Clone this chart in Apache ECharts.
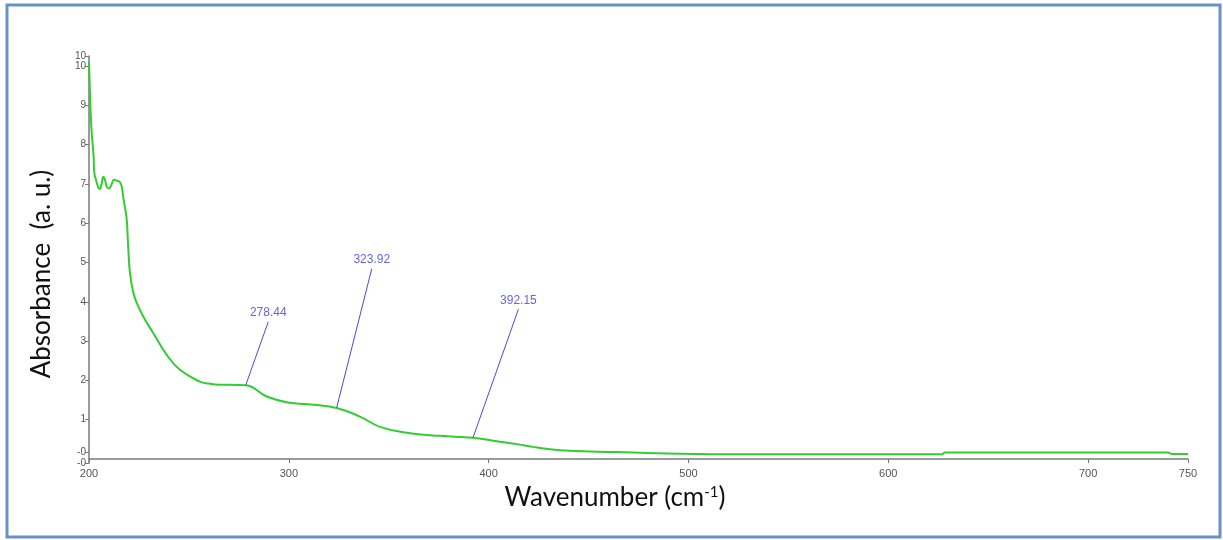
<!DOCTYPE html>
<html>
<head>
<meta charset="utf-8">
<script src="https://cdn.jsdelivr.net/npm/echarts@6/dist/echarts.min.js"></script>
<style>
    html, body { margin: 0; padding: 0; background: #fff; }
    #chart { width: 1223px; height: 540px; }
</style>
</head>
<body>
<div id="chart"></div>
<script>
// spectrum: wavenumber / absorbance
const waveX = [200.0, 200.3, 200.6, 201.0, 201.5, 202.0, 202.3, 202.6, 203.5, 204.7, 205.5, 206.3, 207.2, 208.0, 208.9, 210.0, 211.4, 212.5, 213.9, 215.5, 216.5, 217.0, 218.0, 218.9, 219.4, 219.7, 220.5, 222.2, 223.9, 227.2, 232.2, 238.9, 245.5, 255.5, 260, 265, 270, 278.44, 288.9, 300.6, 312.3, 323.92, 335.6, 345.6, 359.0, 375.7, 392.15, 405.7, 414.1, 422.4, 427.4, 440.7, 464.1, 484.1, 525.8, 626.8, 628.4, 740.0, 742.0, 750];
const absorb = [10.1, 9.6, 9.1, 8.6, 8.2, 7.9, 7.7, 7.3, 7.1, 6.9, 6.87, 7.0, 7.18, 7.1, 6.92, 6.88, 7.0, 7.1, 7.08, 7.04, 6.9, 6.7, 6.4, 6.08, 5.6, 5.32, 4.73, 4.23, 3.97, 3.62, 3.2, 2.65, 2.27, 1.97, 1.92, 1.89, 1.89, 1.88, 1.59, 1.43, 1.38, 1.3, 1.08, 0.82, 0.67, 0.59, 0.54, 0.44, 0.38, 0.31, 0.27, 0.21, 0.18, 0.15, 0.12, 0.12, 0.17, 0.17, 0.13, 0.13];

// peak annotations: point on curve and end of the leader line
const peakNames = ["278.44", "323.92", "392.15"];
const peakX = [278.44, 323.92, 392.15];
const peakY = [1.88, 1.30, 0.54];
const tagX = [289.7, 341.5, 414.9];
const tagY = [3.49, 4.84, 3.81];

const xTickValues = [200, 300, 400, 500, 600, 700, 750];
const yTickValues = [-0.1, 0.18, 1, 2, 3, 4, 5, 6, 7, 8, 9, 10, 10.25];
const yTickLabels = ["-0", "-0", "1", "2", "3", "4", "5", "6", "7", "8", "9", "10", "10"];

const chart = echarts.init(document.getElementById("chart"));

const axisColor = "#7a7a7a";

chart.setOption({
    animation: false,
    backgroundColor: "#fff",
    grid: { left: 89, right: 35, top: 56, bottom: 77 },
    xAxis: {
        type: "value",
        min: 200,
        max: 750,
        axisLine: { lineStyle: { color: axisColor, width: 1.5 } },
        axisTick: { customValues: xTickValues, length: 4, lineStyle: { color: axisColor } },
        axisLabel: {
            customValues: xTickValues,
            margin: 5,
            fontFamily: "Liberation Sans",
            fontSize: 11,
            color: "#555"
        },
        splitLine: { show: false }
    },
    yAxis: {
        type: "value",
        min: -0.1,
        max: 10.25,
        axisLine: { show: true, lineStyle: { color: axisColor, width: 1.5 } },
        axisTick: { show: true, customValues: yTickValues, length: 4, lineStyle: { color: axisColor } },
        axisLabel: {
            customValues: yTickValues,
            margin: 3,
            showMinLabel: true,
            showMaxLabel: true,
            hideOverlap: false,
            fontFamily: "Liberation Sans",
            fontSize: 10,
            color: "#555",
            formatter: v => yTickLabels[yTickValues.indexOf(v)]
        },
        splitLine: { show: false }
    },
    graphic: [
        {
            type: "rect",
            shape: { x: 7, y: 5, width: 1213, height: 532 },
            style: { fill: null, stroke: "#6a91c6", lineWidth: 3 },
            silent: true
        },
        {
            type: "text",
            x: 42,
            y: 274,
            rotation: Math.PI / 2,
            style: {
                text: "Absorbance  (a. u.)",
                font: "26px Lato",
                fill: "#111",
                align: "center",
                verticalAlign: "middle"
            }
        },
        {
            type: "text",
            x: 615,
            y: 498,
            style: {
                text: "Wavenumber (cm{sup|-1})",
                font: "26px Lato",
                fill: "#111",
                align: "center",
                verticalAlign: "middle",
                rich: {
                    sup: { font: "15px Lato", fill: "#111", verticalAlign: "top", padding: [0, 0, 12, 0] }
                }
            }
        }
    ],
    series: [
        {
            name: "spectrum",
            type: "line",
            data: waveX.map((x, i) => [x, absorb[i]]),
            showSymbol: false,
            smooth: 0.45,
            lineStyle: { color: "#33cc33", width: 2 },
            z: 3,
            markLine: {
                silent: true,
                symbol: "none",
                label: { show: false },
                lineStyle: { color: "#4a4ae0", width: 1, type: "solid" },
                data: peakX.map((x, i) => [
                    { coord: [x, peakY[i]] },
                    { coord: [tagX[i], tagY[i]] }
                ])
            }
        },
        {
            name: "peaks",
            type: "scatter",
            data: tagX.map((x, i) => [x, tagY[i], peakNames[i]]),
            symbolSize: 0,
            label: {
                show: true,
                position: "top",
                distance: 3,
                formatter: p => p.data[2],
                fontFamily: "Liberation Sans",
                fontSize: 12,
                color: "#3c3cdc"
            }
        }
    ]
});
</script>
</body>
</html>
